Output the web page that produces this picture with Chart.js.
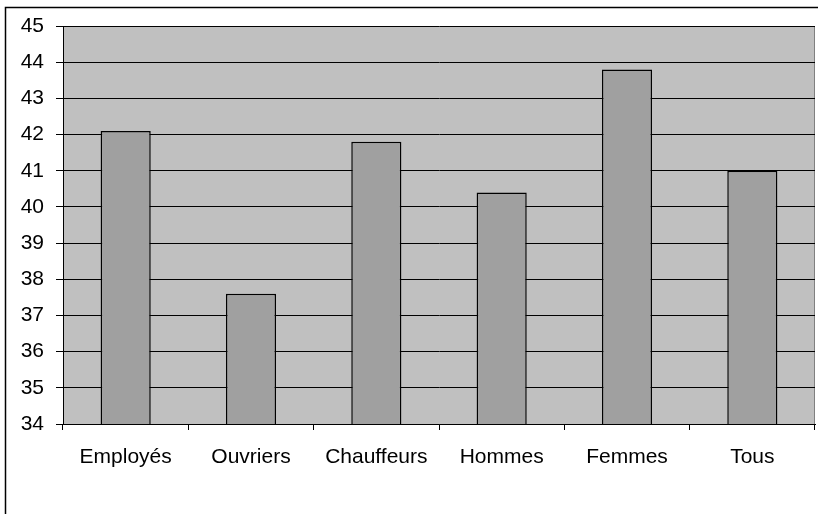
<!DOCTYPE html>
<html>
<head>
<meta charset="utf-8">
<script src="https://cdn.jsdelivr.net/npm/chart.js@4/dist/chart.umd.min.js"></script>
<style>
html,body{margin:0;padding:0;background:#fff;}
#wrap{width:818px;height:514px;position:relative;}
</style>
</head>
<body>
<div id="wrap"><canvas id="c" width="818" height="514"></canvas></div>
<script>
const categories = ["Employés", "Ouvriers", "Chauffeurs", "Hommes", "Femmes", "Tous"];
const values = [42.1, 37.6, 41.8, 40.4, 43.8, 41.0];
const yMin = 34;
const yMax = 45;
const yStep = 1;

const frame = {
  id: 'frame',
  beforeDraw(chart) {
    const {ctx, chartArea: a} = chart;
    ctx.save();
    ctx.fillStyle = '#c0c0c0';
    ctx.fillRect(a.left, a.top, a.right - a.left, a.bottom - a.top);
    ctx.strokeStyle = '#808080';
    ctx.lineWidth = 1;
    ctx.beginPath();
    ctx.moveTo(a.right - 0.5, a.top);
    ctx.lineTo(a.right - 0.5, a.bottom);
    ctx.stroke();
    ctx.restore();
  },
  afterDraw(chart) {
    const ctx = chart.ctx;
    ctx.save();
    ctx.strokeStyle = '#000';
    ctx.lineWidth = 1.5;
    ctx.beginPath();
    ctx.moveTo(5.5, 514);
    ctx.lineTo(5.5, 7.5);
    ctx.lineTo(818, 7.5);
    ctx.stroke();
    ctx.restore();
  }
};

new Chart(document.getElementById('c'), {
  type: 'bar',
  data: {
    labels: categories,
    datasets: [{
      data: values,
      backgroundColor: '#a0a0a0',
      borderColor: '#000',
      borderWidth: 1.5,
      borderSkipped: false,
      barPercentage: 0.4,
      categoryPercentage: 1.0
    }]
  },
  options: {
    responsive: false,
    animation: false,
    devicePixelRatio: 1,
    layout: { padding: { left: 0, right: 3, top: 26, bottom: 0 } },
    plugins: { legend: { display: false }, tooltip: { enabled: false } },
    scales: {
      x: {
        offset: true,
        grid: { display: true, drawOnChartArea: false, drawTicks: true, tickLength: 6, offset: true, color: '#000' },
        border: { display: true, color: '#000', width: 1 },
        ticks: { color: '#000', font: { family: 'Liberation Sans, Arial, sans-serif', size: 21 }, padding: 15, maxRotation: 0 },
        afterFit(s) { s.height = 90; }
      },
      y: {
        min: yMin, max: yMax,
        grid: { color: '#000', lineWidth: 1, drawTicks: true, tickLength: 7 },
        border: { display: true, color: '#000', width: 1 },
        ticks: { stepSize: yStep, color: '#000', font: { family: 'Liberation Sans, Arial, sans-serif', size: 21 }, padding: 12 },
        afterFit(s) { s.width = 63; }
      }
    }
  },
  plugins: [frame]
});
</script>
</body>
</html>
